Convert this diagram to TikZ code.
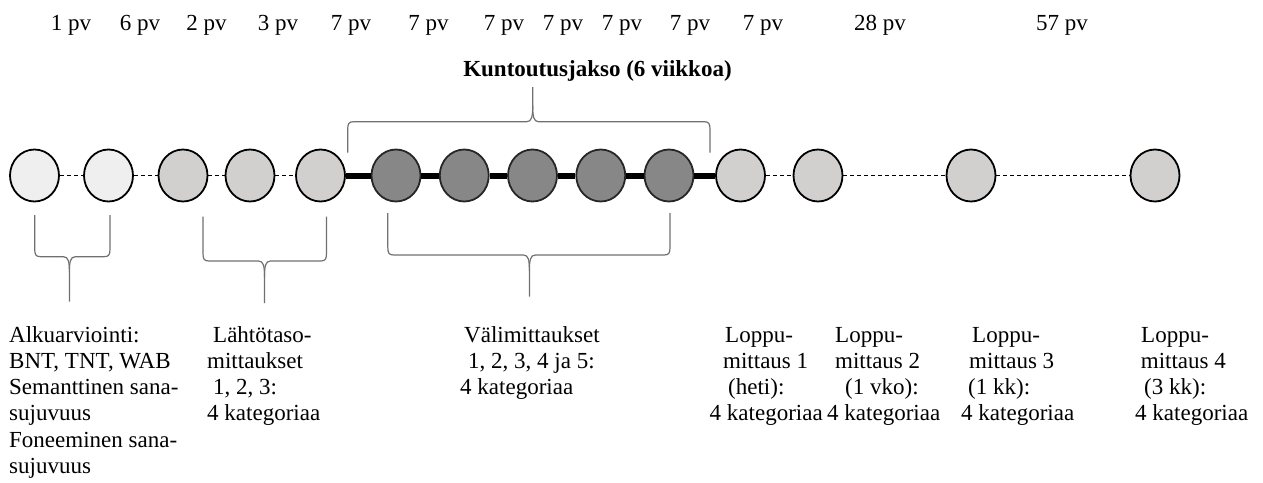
\documentclass[tikz,border=0pt]{standalone}
\usepackage{fontspec}
\setmainfont{Liberation Serif}
\usetikzlibrary{shapes.geometric}
\definecolor{cLight}{HTML}{EFEFEF}
\definecolor{cGray}{HTML}{D2CFCF}
\definecolor{cDark}{HTML}{878787}
\definecolor{cBrace}{HTML}{707070}
\newcommand\mybrace[7]{%
  \draw[brace] (#1,#4) -- (#1,{#5-8*(#7)}) .. controls (#1,{#5-2*(#7)}) and ({#1+1},#5) .. ({#1+6},#5)
     -- ({#3-6},#5) .. controls ({#3-1},#5) and (#3,{#5+5*(#7)}) .. (#3,{#5+16*(#7)}) -- (#3,#6);
  \draw[brace] (#2,#4) -- (#2,{#5-8*(#7)}) .. controls (#2,{#5-2*(#7)}) and ({#2-1},#5) .. ({#2-6},#5)
     -- ({#3+6},#5) .. controls ({#3+1},#5) and (#3,{#5+5*(#7)}) .. (#3,{#5+16*(#7)});
}
\begin{document}
\begin{tikzpicture}[x=1pt,y=-1pt,
  pt/.style={ellipse, draw=black, line width=1.8pt, minimum width=49pt, minimum height=52pt, inner sep=0pt},
  lightpt/.style={pt, fill=cLight},
  graypt/.style={pt, fill=cGray},
  darkpt/.style={pt, fill=cDark, draw=black!85},
  dashline/.style={draw=black, line width=1.2pt, dash pattern=on 4pt off 3pt},
  thickline/.style={draw=black, line width=6pt},
  brace/.style={draw=cBrace, line width=1.2pt},
  lbl/.style={font=\fontsize{23}{26.3}\selectfont, inner sep=0pt, anchor=base},
  txt/.style={lbl, anchor=base west}]
\useasboundingbox (0,0) rectangle (1263,482);

% top interval labels
\node[lbl] (p1) at (71,30.7) {1 pv};
\node[lbl] (p2) at (140,30.7) {6 pv};
\node[lbl] (p3) at (206.5,30.7) {2 pv};
\node[lbl] (p4) at (278,30.7) {3 pv};
\node[lbl] (p5) at (351,30.7) {7 pv};
\node[lbl] (p6) at (428.6,30.7) {7 pv};
\node[lbl] (p7) at (504,30.7) {7 pv};
\node[lbl] (p8) at (563,30.7) {7 pv};
\node[lbl] (p9) at (622,30.7) {7 pv};
\node[lbl] (p10) at (690,30.7) {7 pv};
\node[lbl] (p11) at (763,30.7) {7 pv};
\node[lbl] (p12) at (880,30.7) {28 pv};
\node[lbl] (p13) at (1062,30.7) {57 pv};

\node[lbl, font=\fontsize{23}{26.3}\selectfont\bfseries] (kj) at (597.5,76) {Kuntoutusjakso (6 viikkoa)};

% measurement points
\node[lightpt] (c1) at (34.5,175.5) {};
\node[lightpt] (c2) at (108.5,175.5) {};
\node[graypt] (c3) at (183,175.5) {};
\node[graypt] (c4) at (250,175.5) {};
\node[graypt] (c5) at (320.5,175.5) {};
\node[darkpt] (c6) at (396,175.5) {};
\node[darkpt] (c7) at (464.25,175.5) {};
\node[darkpt] (c8) at (532.5,175.5) {};
\node[darkpt] (c9) at (600.75,175.5) {};
\node[darkpt] (c10) at (669,175.5) {};
\node[graypt] (c11) at (740.5,175.5) {};
\node[graypt] (c12) at (818,175.5) {};
\node[graypt] (c13) at (971,175.5) {};
\node[graypt] (c14) at (1155,175.5) {};

\draw[dashline] (c1) -- (c2);
\draw[dashline] (c2) -- (c3);
\draw[dashline] (c3) -- (c4);
\draw[dashline] (c4) -- (c5);
\draw[thickline] (c5) -- (c6);
\draw[thickline] (c6) -- (c7);
\draw[thickline] (c7) -- (c8);
\draw[thickline] (c8) -- (c9);
\draw[thickline] (c9) -- (c10);
\draw[thickline] (c10) -- (c11);
\draw[dashline] (c11) -- (c12);
\draw[dashline] (c12) -- (c13);
\draw[dashline] (c13) -- (c14);

% braces
\mybrace{347.7}{710}{532.7}{152.7}{121.7}{87}{-1}
\mybrace{34.7}{110}{69.4}{215}{256.7}{301.7}{1}
\mybrace{203}{326.5}{264.5}{216.7}{261}{303}{1}
\mybrace{387.8}{670}{529.4}{213}{255}{296.7}{1}

% bottom texts
\node[txt] (a1) at (9,342) {Alkuarviointi:};
\node[txt] (a2) at (9,368.3) {BNT, TNT, WAB};
\node[txt] (a3) at (9,394.6) {Semanttinen sana-};
\node[txt] (a4) at (9,420.9) {sujuvuus};
\node[txt] (a5) at (9,447.2) {Foneeminen sana-};
\node[txt] (a6) at (9,473.5) {sujuvuus};

\node[txt] (b1) at (213,342) {Lähtötaso-};
\node[txt] (b2) at (207,368.3) {mittaukset};
\node[txt] (b3) at (213,394.6) {1, 2, 3:};
\node[txt] (b4) at (207,420.9) {4 kategoriaa};

\node[txt] (v1) at (464,342) {Välimittaukset};
\node[txt] (v2) at (468,368.3) {1, 2, 3, 4 ja 5:};
\node[txt] (v3) at (460,394.6) {4 kategoriaa};

\node[txt] (l1a) at (725,342) {Loppu-};
\node[txt] (l1b) at (723,368.3) {mittaus 1};
\node[txt] (l1c) at (728,394.6) {(heti):};
\node[txt] (l1d) at (709.5,420.9) {4 kategoriaa};

\node[txt] (l2a) at (835,342) {Loppu-};
\node[txt] (l2b) at (835,368.3) {mittaus 2};
\node[txt] (l2c) at (845,394.6) {(1 vko):};
\node[txt] (l2d) at (827,420.9) {4 kategoriaa};

\node[txt] (l3a) at (972,342) {Loppu-};
\node[txt] (l3b) at (969,368.3) {mittaus 3};
\node[txt] (l3c) at (968,394.6) {(1 kk):};
\node[txt] (l3d) at (961,420.9) {4 kategoriaa};

\node[txt] (l4a) at (1141,342) {Loppu-};
\node[txt] (l4b) at (1140.7,368.3) {mittaus 4};
\node[txt] (l4c) at (1144,394.6) {(3 kk):};
\node[txt] (l4d) at (1135,420.9) {4 kategoriaa};
\end{tikzpicture}
\end{document}
